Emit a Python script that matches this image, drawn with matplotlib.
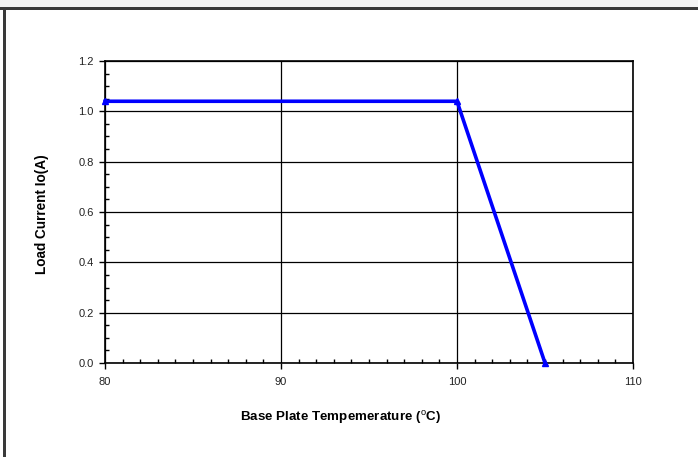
import matplotlib
matplotlib.use("Agg")
import matplotlib.pyplot as plt
from matplotlib.patches import Rectangle
from matplotlib.ticker import MultipleLocator

plt.rcParams['font.family'] = ['Liberation Sans', 'DejaVu Sans']
plt.rcParams['mathtext.fontset'] = 'custom'
plt.rcParams['mathtext.rm'] = 'Liberation Sans'
plt.rcParams['mathtext.bf'] = 'Liberation Sans:bold'

# derating curve
temp = [80, 100, 105]
current = [1.04, 1.04, 0.0]

x_ticks = [80, 90, 100, 110]
y_ticks = [0.0, 0.2, 0.4, 0.6, 0.8, 1.0, 1.2]

W, H = 698, 457
fig = plt.figure(figsize=(W / 100, H / 100), dpi=100)
fig.patch.set_facecolor('white')

# screenshot frame: grey strip on top, dark border top and left
fig.add_artist(Rectangle((0, 1 - 7.5 / H), 1, 7.5 / H, transform=fig.transFigure,
                         facecolor='#f4f4f4', edgecolor='none', zorder=0))
fig.add_artist(Rectangle((0, 1 - 10 / H), 1, 2.5 / H, transform=fig.transFigure,
                         facecolor='#3a3a3a', edgecolor='none', zorder=1))
fig.add_artist(Rectangle((3.3 / W, 0), 2.7 / W, 1 - 7.5 / H, transform=fig.transFigure,
                         facecolor='#3a3a3a', edgecolor='none', zorder=1))

ax = fig.add_axes([105 / W, 1 - 363 / H, (633 - 105) / W, (363 - 61) / H])
ax.plot(temp, current, color='#0000ff', lw=2.6, marker='^', markersize=5,
        clip_on=False, zorder=5)

ax.set_xlim(80, 110)
ax.set_ylim(0, 1.2)
ax.set_xticks(x_ticks)
ax.set_yticks(y_ticks)
ax.set_yticklabels(['%.1f' % v for v in y_ticks])
ax.xaxis.set_minor_locator(MultipleLocator(1))
ax.yaxis.set_minor_locator(MultipleLocator(0.05))
ax.tick_params(which='major', direction='out', length=4, width=1, labelsize=8,
               labelcolor='#222222', colors='black', pad=4)
ax.tick_params(which='minor', direction='in', length=3, width=1)
ax.tick_params(axis='x', pad=6)
ax.grid(True, which='major', color='black', lw=0.9)
ax.set_axisbelow(True)
for s in ax.spines.values():
    s.set_linewidth(1.2)
    s.set_color('black')

fig.text(340 / W, 1 - 418 / H, r'Base Plate Tempemerature ($^{\mathrm{o}}$C)',
         ha='center', va='center', fontsize=9.6, fontweight='bold')
fig.text(42 / W, 1 - 214 / H, 'Load Current Io(A)', rotation=90,
         ha='center', va='center', fontsize=9.8, fontweight='bold')

fig.savefig('out.png', dpi=100)
